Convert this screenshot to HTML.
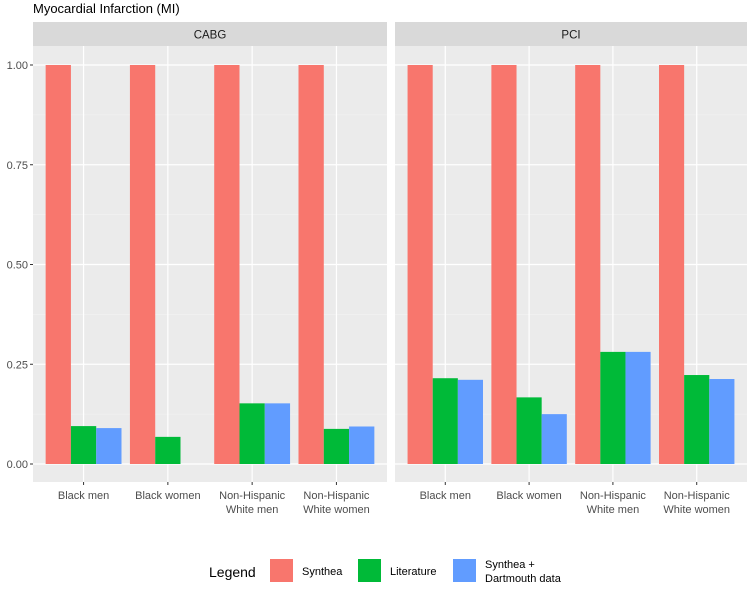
<!DOCTYPE html>
<html><head><meta charset="utf-8"><style>
body{margin:0;background:#fff;width:750px;height:585px;overflow:hidden;font-family:"Liberation Sans",Arial,sans-serif}
</style></head><body>
<svg id="chart" width="750" height="585" xmlns="http://www.w3.org/2000/svg" font-family="Liberation Sans, Arial, sans-serif"></svg>
<script>
const panels = ["CABG", "PCI"];
const categories = [["Black men"], ["Black women"], ["Non-Hispanic", "White men"], ["Non-Hispanic", "White women"]];
const seriesNames = ["Synthea", "Literature", "Synthea +|Dartmouth data"];
const syntheaCABG = [1.0, 1.0, 1.0, 1.0];
const literatureCABG = [0.095, 0.068, 0.152, 0.088];
const dartmouthCABG = [0.090, null, 0.152, 0.094];
const syntheaPCI = [1.0, 1.0, 1.0, 1.0];
const literaturePCI = [0.215, 0.167, 0.281, 0.223];
const dartmouthPCI = [0.211, 0.125, 0.281, 0.213];
const yTicks = [0, 0.25, 0.5, 0.75, 1.0];
const yTickLabels = ["0.00", "0.25", "0.50", "0.75", "1.00"];

const colors = ["#F8766D", "#00BA38", "#619CFF"];
const NS = "http://www.w3.org/2000/svg";
const svg = document.getElementById("chart");
function el(tag, attrs, parent) {
  const e = document.createElementNS(NS, tag);
  for (const k in attrs) e.setAttribute(k, attrs[k]);
  (parent || svg).appendChild(e);
  return e;
}
const panelTop = 46, panelBottom = 482;
const y0 = 464, yScale = 399;
function yPos(v) { return y0 - v * yScale; }
const panelX = [[33, 387], [395, 747]];
const data = [[syntheaCABG, literatureCABG, dartmouthCABG], [syntheaPCI, literaturePCI, dartmouthPCI]];

const title = el("text", {x: 33, y: 13, "font-size": 13, fill: "#000"});
title.textContent = "Myocardial Infarction (MI)";



panels.forEach((p, pi) => {
  const [x1, x2] = panelX[pi];
  const n = categories.length;
  const step = (x2 - x1) / (n + 0.2);
  function xPos(i) { return x1 + step * (0.6 + i); }
  const g = el("g", {});
  
  
  el("rect", {x: x1, y: panelTop, width: x2 - x1, height: panelBottom - panelTop, fill: "#EBEBEB"}, g);
  // minor gridlines
  for (let i = 0; i < yTicks.length - 1; i++) {
    const yy = yPos((yTicks[i] + yTicks[i + 1]) / 2);
    el("line", {x1: x1, x2: x2, y1: yy, y2: yy, stroke: "#F5F5F5", "stroke-width": 0.6}, g);
  }
  yTicks.forEach(t => {
    el("line", {x1: x1, x2: x2, y1: yPos(t), y2: yPos(t), stroke: "#fff", "stroke-width": 1.2}, g);
  });
  categories.forEach((c, i) => {
    el("line", {x1: xPos(i), x2: xPos(i), y1: panelTop, y2: panelBottom, stroke: "#fff", "stroke-width": 1.2}, g);
  });
  // strip
  const strip = el("rect", {x: x1, y: 22, width: x2 - x1, height: 24, fill: "#D9D9D9"}, g);
  
  
  const st = el("text", {x: (x1 + x2) / 2, y: 38.5, "font-size": 11.5, fill: "#1A1A1A", "text-anchor": "middle"}, g);
  st.textContent = p;
  // bars
  const bw = step * 0.9 / 3;
  data[pi].forEach((series, si) => {
    series.forEach((v, i) => {
      if (v == null) return;
      const bx = xPos(i) - step * 0.45 + si * bw;
      const r = el("rect", {x: bx, y: yPos(v), width: bw, height: yPos(0) - yPos(v), fill: colors[si]}, g);
      
      
    });
  });
  // x ticks
  categories.forEach((c, i) => {
    el("line", {x1: xPos(i), x2: xPos(i), y1: panelBottom, y2: panelBottom + 3, stroke: "#333", "stroke-width": 1}, g);
    c.forEach((line, li) => {
      const t = el("text", {x: xPos(i), y: 499 + li * 14, "font-size": 11, fill: "#4D4D4D", "text-anchor": "middle"}, g);
      t.textContent = line;
      
      
    });
  });
});
// y axis
yTicks.forEach((t, i) => {
  el("line", {x1: 30, x2: 33, y1: yPos(t), y2: yPos(t), stroke: "#333", "stroke-width": 1});
  const lab = el("text", {x: 28, y: yPos(t) + 4, "font-size": 11, fill: "#4D4D4D", "text-anchor": "end"});
  lab.textContent = yTickLabels[i];
  
  
});
// legend
const lg = el("g", {});


const lt = el("text", {x: 209, y: 577, "font-size": 14, fill: "#000"}, lg);
lt.textContent = "Legend";
const keyX = [270, 358, 453];
seriesNames.forEach((s, i) => {
  const k = el("rect", {x: keyX[i], y: 559, width: 23, height: 23, fill: colors[i]}, lg);
  
  
  const parts = s.split("|");
  parts.forEach((pt, pi) => {
    const t = el("text", {x: keyX[i] + 32, y: (parts.length > 1 ? 568 : 575) + pi * 14, "font-size": 11, fill: "#000"}, lg);
    t.textContent = pt;
    
    
  });
});
</script>
</body></html>
